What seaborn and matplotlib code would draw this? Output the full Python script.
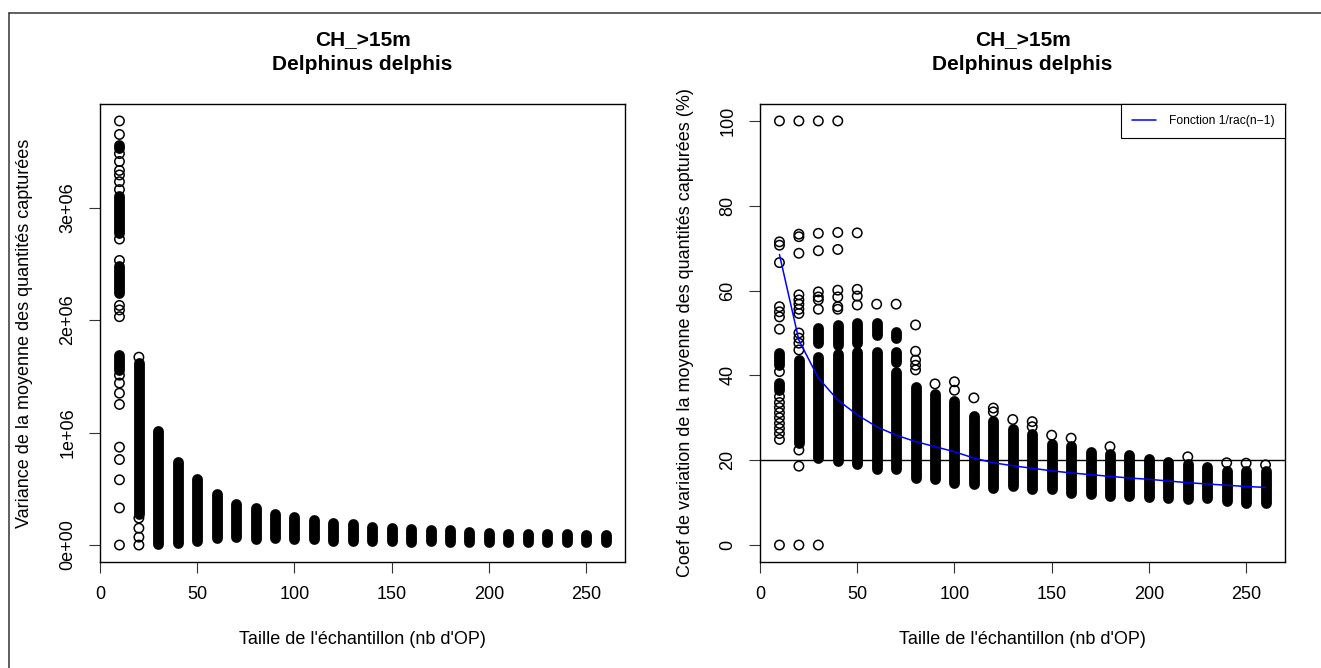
import pandas as pd
import matplotlib.pyplot as plt
from matplotlib.lines import Line2D
import seaborn as sns

sns.set_style("white")
plt.rcParams['font.family'] = ['Liberation Sans', 'DejaVu Sans']
plt.rcParams['text.color'] = 'black'
plt.rcParams['axes.labelcolor'] = 'black'
plt.rcParams['xtick.color'] = 'black'
plt.rcParams['ytick.color'] = 'black'

# ------------------------
# Data
# ------------------------

sizes = [10, 20, 30, 40, 50, 60, 70, 80, 90, 100, 110, 120, 130,
         140, 150, 160, 170, 180, 190, 200, 210, 220, 230, 240, 250, 260]

# left panel: variance of the mean, in units of 1e6
# dense runs of points -> (n, lowest, highest)
var_band_n = [10, 20, 30, 40, 50, 60, 70, 80, 90, 100, 110, 120, 130,
              140, 150, 160, 170, 180, 190, 200, 210, 220, 230, 240, 250, 260,
              10, 10, 10]
var_band_lo = [2.77, 0.28, 0.006, 0.02, 0.04, 0.065, 0.07, 0.05, 0.065, 0.05,
               0.05, 0.04, 0.04, 0.04, 0.04, 0.03, 0.04, 0.03, 0.03, 0.03,
               0.03, 0.025, 0.025, 0.025, 0.025, 0.025,
               1.56, 2.24, 3.53]
var_band_hi = [3.10, 1.62, 1.016, 0.735, 0.587, 0.45, 0.365, 0.33, 0.275, 0.246,
               0.22, 0.20, 0.19, 0.16, 0.15, 0.14, 0.135, 0.13, 0.12, 0.11,
               0.10, 0.10, 0.095, 0.095, 0.085, 0.085,
               1.69, 2.48, 3.56]
# isolated points
var_points = {
    10: [0.0, 0.33, 0.58, 0.76, 0.87, 1.25, 1.35, 1.44, 1.51, 2.03, 2.09,
         2.13, 2.53, 2.72, 3.16, 3.23, 3.29, 3.33, 3.41, 3.48, 3.65, 3.77],
    20: [0.0, 0.07, 0.15, 0.24, 1.67],
}

# right panel: coefficient of variation (%)
cv_band_n = [10, 10, 20, 30, 30, 40, 40, 50, 50, 60, 60, 70, 70, 70,
             80, 90, 100, 110, 120, 130, 140, 150, 160, 170, 180, 190,
             200, 210, 220, 230, 240, 250, 260]
cv_band_lo = [36.5, 42.4, 24.0, 20.6, 47.6, 19.8, 47.2, 19.1, 47.6, 17.9, 49.5,
              17.9, 43.2, 48.8, 15.8, 15.6, 14.7, 14.3, 13.5, 13.9, 13.1, 13.3,
              12.3, 12.1, 11.6, 11.6, 11.3, 11.2, 10.9, 11.1, 10.4, 10.0, 10.0]
cv_band_hi = [38.2, 45.3, 43.6, 44.3, 51.2, 45.0, 51.9, 45.5, 52.3, 45.5, 52.3,
              40.8, 45.5, 50.2, 37.3, 35.6, 34.0, 30.5, 29.3, 27.4, 26.2, 23.8,
              23.4, 21.9, 21.5, 21.2, 20.3, 19.6, 19.1, 18.3, 17.5, 17.5, 17.5]
cv_points = {
    10: [0, 24.9, 26.3, 27.5, 28.7, 30.0, 31.2, 32.4, 33.6, 35.0, 40.9, 50.9,
         53.8, 55.0, 56.2, 66.6, 70.7, 71.5, 100],
    20: [0, 18.6, 22.4, 46.0, 47.6, 48.8, 50.0, 54.6, 55.6, 56.8, 57.8, 59.0,
         68.8, 72.7, 73.3, 100],
    30: [0, 55.6, 57.8, 58.5, 59.7, 69.4, 73.5, 100],
    40: [55.6, 56.2, 58.5, 60.1, 69.7, 73.7, 100],
    50: [56.6, 58.7, 60.3, 73.6],
    60: [56.8],
    70: [56.8],
    80: [41.3, 42.4, 43.6, 45.7, 51.9],
    90: [38.0],
    100: [36.5, 38.5],
    110: [34.7],
    120: [31.4, 32.3],
    130: [29.6],
    140: [27.9, 29.1],
    150: [25.9],
    160: [25.2],
    180: [23.2],
    220: [20.8],
    240: [19.4],
    250: [19.3],
    260: [18.9],
}

# blue curve "Fonction 1/rac(n-1)"
fn_y = [68.5, 48.3, 39.4, 34.2, 30.7, 27.9, 25.9, 24.4, 23.2, 22.0, 20.5, 19.4,
        18.7, 18.1, 17.5, 17.0, 16.6, 16.2, 15.8, 15.5, 15.1, 14.7, 14.4, 14.1,
        13.8, 13.6]

title = "CH_>15m\nDelphinus delphis"
xlabel = "Taille de l'échantillon (nb d'OP)"
var_ylabel = "Variance de la moyenne des quantités capturées"
cv_ylabel = "Coef de variation de la moyenne des quantités capturées (%)"
legend_label = "Fonction 1/rac(n\u22121)"


def to_frame(points):
    rows = [(n, v) for n, vals in points.items() for v in vals]
    return pd.DataFrame(rows, columns=["n", "value"])


# ------------------------
# Figure
# ------------------------

W, H = 1321, 668
fig = plt.figure(figsize=(W / 100, H / 100), dpi=100)

box_w, box_h = 525, 458
box_top = 104
ax1 = fig.add_axes([100 / W, 1 - (box_top + box_h) / H, box_w / W, box_h / H])
ax2 = fig.add_axes([760 / W, 1 - (box_top + box_h) / H, box_w / W, box_h / H])

# outer frame of the original screenshot (top and left edges only)
fig.add_artist(Line2D([9 / W, 1], [1 - 13 / H, 1 - 13 / H], transform=fig.transFigure,
                      color="#333333", lw=1.1))
fig.add_artist(Line2D([9 / W, 9 / W], [0, 1 - 13 / H], transform=fig.transFigure,
                      color="#333333", lw=1.1))

ring_s = 46
ring_lw = 1.1
band_lw = 7.8


def draw_columns(ax, band_n, band_lo, band_hi, points):
    lc = ax.vlines(band_n, band_lo, band_hi, colors="black", linewidth=band_lw)
    lc.set_capstyle("round")
    df = to_frame(points)
    sns.scatterplot(data=df, x="n", y="value", ax=ax, marker="o", s=ring_s,
                    facecolor="none", edgecolor="black", linewidth=ring_lw,
                    legend=False)


def style_axes(ax, ylabel):
    ax.set_xlim(0, 270)
    ax.set_xticks([0, 50, 100, 150, 200, 250])
    for side in ["left", "right", "top", "bottom"]:
        ax.spines[side].set_visible(True)
        ax.spines[side].set_color("black")
        ax.spines[side].set_linewidth(1.0)
    ax.tick_params(direction="out", length=8, width=0.8, color="#333333",
                   labelsize=13, left=True, bottom=True)
    ax.tick_params(axis="x", pad=9)
    ax.tick_params(axis="y", pad=9)
    for lab in ax.get_yticklabels():
        lab.set_rotation(90)
        lab.set_va("center")
    ax.set_xlabel(xlabel, fontsize=13)
    ax.set_ylabel(ylabel, fontsize=13)
    ax.xaxis.set_label_coords(0.5, -(640 - 562) / box_h)
    ax.xaxis.label.set_va("center")
    ax.yaxis.set_label_coords(-75 / box_w, 0.5)
    ax.yaxis.label.set_va("center")
    ax.text(0.5, 1 + (104 - 40) / box_h, title.split("\n")[0], transform=ax.transAxes,
            ha="center", va="center", fontsize=15, fontweight="bold")
    ax.text(0.5, 1 + (104 - 65) / box_h, title.split("\n")[1], transform=ax.transAxes,
            ha="center", va="center", fontsize=15, fontweight="bold")


# ------------------------
# Left: variance
# ------------------------

draw_columns(ax1, var_band_n, var_band_lo, var_band_hi, var_points)
ax1.set_ylim(-0.1508, 3.9208)
ax1.set_yticks([0, 1, 2, 3])
ax1.set_yticklabels(["0e+00", "1e+06", "2e+06", "3e+06"])
style_axes(ax1, var_ylabel)

# ------------------------
# Right: coefficient of variation
# ------------------------

draw_columns(ax2, cv_band_n, cv_band_lo, cv_band_hi, cv_points)
ax2.axhline(20, color="black", lw=1.0)
sns.lineplot(x=sizes, y=fn_y, ax=ax2, color="blue", lw=1.1, label=legend_label)
ax2.set_ylim(-4, 104)
ax2.set_yticks([0, 20, 40, 60, 80, 100])
style_axes(ax2, cv_ylabel)

leg = ax2.legend(loc="upper right", fontsize=8.7, frameon=True, fancybox=False,
                 framealpha=1, edgecolor="black", borderaxespad=0,
                 handlelength=2.0, handletextpad=1.0, borderpad=0.9)
leg.get_frame().set_linewidth(0.8)

fig.savefig("out.png", dpi=100)
